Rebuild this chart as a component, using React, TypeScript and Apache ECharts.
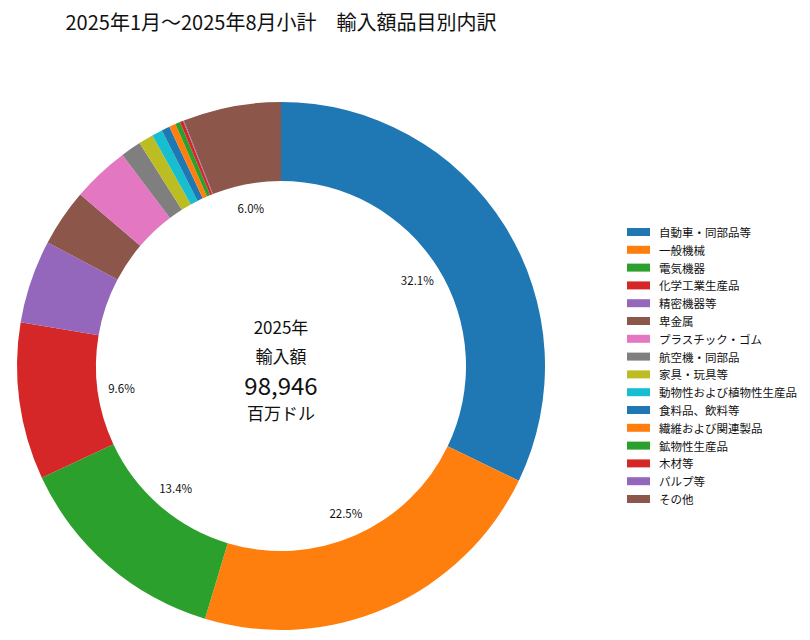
import React, { useEffect, useRef } from "react";
import * as echarts from "echarts";

const titleText = "2025年1月～2025年8月小計　輸入額品目別内訳";
const centerYear = "2025年";
const centerLabel = "輸入額";
const centerUnit = "百万ドル";

const categories = [
  "自動車・同部品等",
  "一般機械",
  "電気機器",
  "化学工業生産品",
  "精密機器等",
  "卑金属",
  "プラスチック・ゴム",
  "航空機・同部品",
  "家具・玩具等",
  "動物性および植物性生産品",
  "食料品、飲料等",
  "繊維および関連製品",
  "鉱物性生産品",
  "木材等",
  "パルプ等",
  "その他",
];

const values = [
  31810, 22263, 13259, 9499, 5046, 3463, 3463, 1237, 891, 643, 495, 396, 297,
  198, 49, 5937,
];

const palette = [
  "#1f77b4",
  "#ff7f0e",
  "#2ca02c",
  "#d62728",
  "#9467bd",
  "#8c564b",
  "#e377c2",
  "#7f7f7f",
  "#bcbd22",
  "#17becf",
  "#1f77b4",
  "#ff7f0e",
  "#2ca02c",
  "#d62728",
  "#9467bd",
  "#8c564b",
];

const FONT = '"Noto Sans CJK JP", "Noto Sans", sans-serif';

export default function App() {
  const ref = useRef<HTMLDivElement>(null);
  useEffect(() => {
    document.body.style.margin = "0";
    if (!ref.current) return;
    const chart = echarts.init(ref.current, undefined, { renderer: "svg" });
    const data = categories.map((name, i) => ({
      name,
      value: values[i],
      itemStyle: { color: palette[i] },
    }));
    const total = values.reduce((a, b) => a + b, 0);
    const cx = 281;
    const cy = 366;
    const centerText = (text: string, y: number, size: number) => ({
      type: "text",
      x: cx,
      y,
      style: {
        text,
        fontFamily: FONT,
        fontSize: size,
        lineHeight: size,
        fill: "#111",
        align: "center",
        verticalAlign: "middle",
      },
    });
    chart.setOption({
      animation: false,
      backgroundColor: "#ffffff",
      textStyle: { fontFamily: FONT },
      title: {
        text: titleText,
        left: cx,
        textAlign: "center",
        top: 11,
        padding: 0,
        textStyle: {
          fontFamily: FONT,
          fontSize: 20,
          fontWeight: "normal",
          color: "#111",
        },
      },
      legend: {
        orient: "vertical",
        left: 622,
        top: 221,
        icon: "rect",
        itemWidth: 23,
        itemHeight: 8,
        itemGap: 5.8,
        selectedMode: false,
        data: categories,
        textStyle: {
          fontFamily: FONT,
          fontSize: 11.5,
          lineHeight: 12,
          color: "#111",
          padding: [0, 0, 0, 4],
        },
      },
      graphic: [
        centerText(centerYear, 326, 17),
        centerText(centerLabel, 355, 17),
        centerText(total.toLocaleString("en-US"), 384, 24),
        centerText(centerUnit, 412, 17),
      ],
      series: [
        {
          type: "pie",
          center: [cx, cy],
          radius: [185, 264],
          startAngle: 90,
          clockwise: true,
          avoidLabelOverlap: false,
          silent: true,
          label: { show: false },
          labelLine: { show: false },
          data,
        },
        {
          type: "pie",
          center: [cx, cy],
          radius: [100, 216],
          startAngle: 90,
          clockwise: true,
          avoidLabelOverlap: false,
          silent: true,
          z: 5,
          itemStyle: { color: "transparent" },
          labelLine: { show: false },
          label: {
            show: true,
            position: "inside",
            fontFamily: FONT,
            fontSize: 11.5,
            color: "#111",
            formatter: (p: any) =>
              p.percent >= 5.5 ? `${((p.value / total) * 100).toFixed(1)}%` : "",
          },
          data: categories.map((name, i) => ({ name, value: values[i] })),
        },
      ],
    });
    return () => chart.dispose();
  }, []);
  return <div ref={ref} style={{ width: 810, height: 640 }} />;
}
